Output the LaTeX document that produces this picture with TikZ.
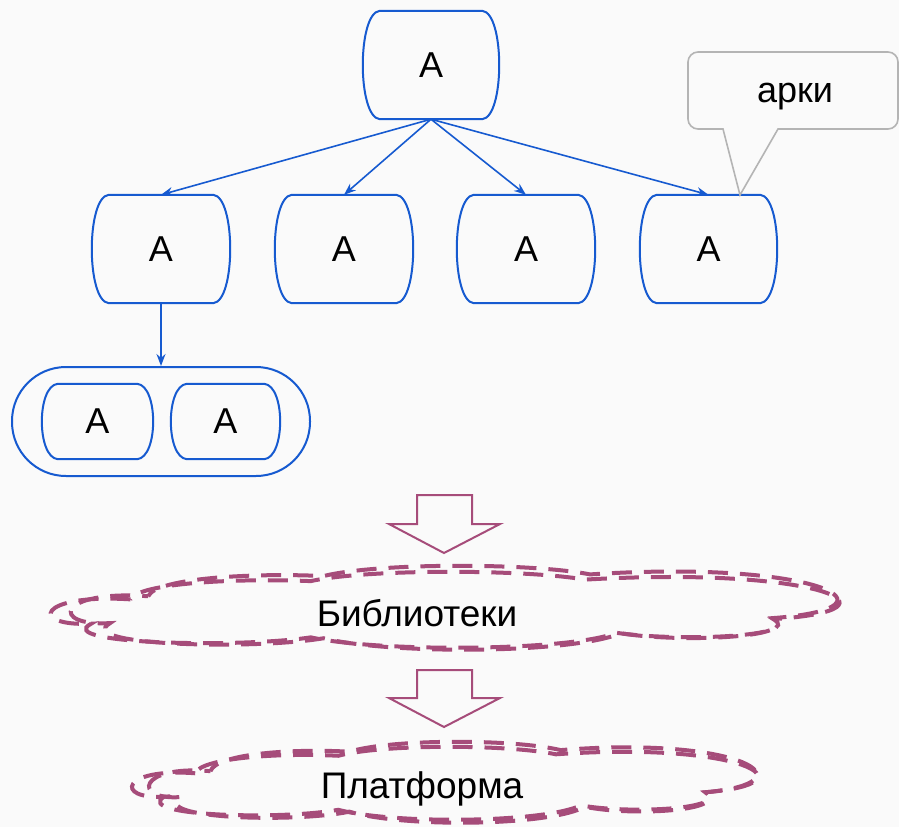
\documentclass[tikz,border=0pt]{standalone}
\usepackage{fontspec}
\setmainfont{Liberation Sans}
\usetikzlibrary{calc,arrows.meta}
\definecolor{bgc}{RGB}{250,250,250}
\definecolor{bl}{RGB}{22,90,208}
\definecolor{mg}{RGB}{166,76,122}
\definecolor{grc}{RGB}{180,180,180}
\tikzset{
  blueline/.style={draw=bl, line width=2pt},
  boxnode/.style={inner sep=0pt, font=\fontsize{36}{42}\selectfont},
  conn/.style={draw=bl, line width=1.6pt, -{Stealth[length=12pt,width=9pt]}},
  cloudline/.style={draw=mg, line width=4pt, dash pattern=on 20pt off 12pt},
  hollow/.style={draw=mg, line width=2pt, fill=bgc},
  callout/.style={draw=grc, line width=1.6pt, fill=bgc},
}
\newcommand\bulgebox[3]{%
  \draw[blueline] ($(#1.north west)+(#2,0)$) -- ($(#1.north east)+(-#2,0)$)
    .. controls ($(#1.north east)+(#3,2)$) and ($(#1.south east)+(#3,-2)$) .. ($(#1.south east)+(-#2,0)$)
    -- ($(#1.south west)+(#2,0)$)
    .. controls ($(#1.south west)+(-#3,-2)$) and ($(#1.north west)+(-#3,2)$) .. cycle;}
\newcommand\cloudshape[1]{%
  \draw[cloudline, dash phase=#1] (0.10,0.36)
    .. controls (-0.02,0.28) and (-0.03,0.72) .. (0.05,0.68)
    .. controls (0.0,0.95) and (0.24,1.0) .. (0.33,0.86)
    .. controls (0.42,1.06) and (0.66,1.04) .. (0.72,0.80)
    .. controls (0.80,0.92) and (0.96,0.85) .. (0.92,0.62)
    .. controls (1.10,0.50) and (0.98,-0.08) .. (0.68,0.10)
    .. controls (0.60,-0.04) and (0.40,-0.04) .. (0.33,0.12)
    .. controls (0.24,0.08) and (0.11,0.14) .. cycle;}
\begin{document}
\begin{tikzpicture}[x=1pt,y=-1pt]
\fill[bgc] (0,0) rectangle (899,827);
\useasboundingbox (0,0) rectangle (899,827);

% tree boxes
\node[boxnode, minimum width=136pt, minimum height=108pt] (t) at (431,65) {A};
\node[boxnode, minimum width=138pt, minimum height=108pt] (a) at (161,249) {A};
\node[boxnode, minimum width=138pt, minimum height=108pt] (b) at (344,249) {A};
\node[boxnode, minimum width=138pt, minimum height=108pt] (c) at (526,249) {A};
\node[boxnode, minimum width=137pt, minimum height=108pt] (d) at (708.5,249) {A};
\foreach \n in {t,a,b,c,d}{\bulgebox{\n}{17}{5.7}}

% capsule group
\node[draw=bl, line width=2pt, rounded corners=54pt, minimum width=298pt, minimum height=109pt, inner sep=0pt] (cap) at (161,421.5) {};
\node[boxnode, minimum width=111pt, minimum height=75pt] (i1) at (97.5,421.5) {A};
\node[boxnode, minimum width=109pt, minimum height=75pt] (i2) at (225.5,421.5) {A};
\bulgebox{i1}{16}{5.3}
\bulgebox{i2}{16}{5.3}

% connectors
\draw[conn] (t.south) -- (a.north);
\draw[conn] (t.south) -- (b.north);
\draw[conn] (t.south) -- (c.north);
\draw[conn] (t.south) -- (d.north);
\draw[conn] (a.south) -- (cap.north);

% callout
\coordinate (tip) at (740,195);
\draw[callout] (tip) -- (778,129) -- (888,129)
  .. controls (893.5,129) and (898,124.5) .. (898,119) -- (898,62)
  .. controls (898,56.5) and (893.5,52) .. (888,52) -- (698,52)
  .. controls (692.5,52) and (688,56.5) .. (688,62) -- (688,119)
  .. controls (688,124.5) and (692.5,129) .. (698,129) -- (723,129) -- cycle;
\node[boxnode] (note) at (795,97) {арки};

% hollow arrows
\draw[hollow] (417,495) -- (472,495) -- (472,524) -- (500,524) -- (444,553) -- (389,524) -- (417,524) -- cycle;
\draw[hollow] (417,670) -- (472,670) -- (472,698) -- (500,698) -- (444,727) -- (389,698) -- (417,698) -- cycle;

% clouds
\begin{scope}[shift={(52,572)},x=784pt,y=-76pt] \cloudshape{0pt} \end{scope}
\begin{scope}[shift={(72,566)},x=762pt,y=-84pt] \cloudshape{14pt} \end{scope}
\node[boxnode, font=\fontsize{37}{42}\selectfont] (lib) at (417,613) {Библиотеки};

\begin{scope}[shift={(133,747)},x=622pt,y=-73pt] \cloudshape{0pt} \end{scope}
\begin{scope}[shift={(150,742)},x=604pt,y=-81pt] \cloudshape{14pt} \end{scope}
\node[boxnode, font=\fontsize{37}{42}\selectfont] (plat) at (422,789) {Платформа};
\end{tikzpicture}
\end{document}
